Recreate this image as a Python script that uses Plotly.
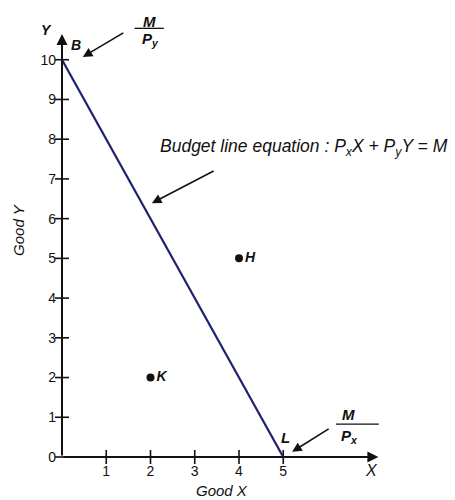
import plotly.graph_objects as go

# Budget line endpoints (intercepts M/Py on Y, M/Px on X)
budget_x = [0, 5]
budget_y = [10, 0]

# Consumption bundles
bundle_names = ["H", "K"]
bundle_x = [4, 2]
bundle_y = [5, 2]

# Axis ticks
x_ticks = [1, 2, 3, 4, 5]
y_ticks = [0, 1, 2, 3, 4, 5, 6, 7, 8, 9, 10]

X_MAX, Y_MAX = 8, 11

INK = "#111111"
LINE_BLUE = "#1d2170"
FONT = "Liberation Sans, Arial, sans-serif"

fig = go.Figure()

# crossing tick marks on both axes
fig.add_trace(go.Scatter(
    x=[0] * len(y_ticks), y=y_ticks, mode="markers",
    marker=dict(symbol="line-ew", size=10, line=dict(color=INK, width=1.6)),
    cliponaxis=False, hoverinfo="skip", showlegend=False))
fig.add_trace(go.Scatter(
    x=x_ticks, y=[0] * len(x_ticks), mode="markers",
    marker=dict(symbol="line-ns", size=10, line=dict(color=INK, width=1.6)),
    cliponaxis=False, hoverinfo="skip", showlegend=False))

# budget line
fig.add_trace(go.Scatter(
    x=budget_x, y=budget_y, mode="lines",
    line=dict(color=LINE_BLUE, width=2.2),
    cliponaxis=False, hoverinfo="skip", showlegend=False))

# bundles H and K
fig.add_trace(go.Scatter(
    x=bundle_x, y=bundle_y, mode="markers+text",
    marker=dict(color=INK, size=8),
    text=["<i><b>%s</b></i>" % n for n in bundle_names],
    textposition="middle right",
    textfont=dict(family=FONT, size=14, color=INK),
    cliponaxis=False, hoverinfo="skip", showlegend=False))

ann = []

# axis arrows
ann.append(dict(x=7.15, y=0, ax=0, ay=0, xref="x", yref="y", axref="x", ayref="y",
                text="", showarrow=True, arrowhead=2, arrowsize=1.1,
                arrowwidth=2, arrowcolor=INK))
ann.append(dict(x=0, y=10.65, ax=0, ay=0, xref="x", yref="y", axref="x", ayref="y",
                text="", showarrow=True, arrowhead=2, arrowsize=1.1,
                arrowwidth=2, arrowcolor=INK))

def label(x, y, s, size=14, **kw):
    # positions given in data units, placed in paper space so that
    # labels outside the axis ranges still render
    d = dict(x=x / X_MAX, y=y / Y_MAX, xref="paper", yref="paper", text=s,
             xanchor="center", yanchor="middle",
             showarrow=False, font=dict(family=FONT, size=size, color=INK))
    d.update(kw)
    ann.append(d)

def pointer(x, y, ax, ay):
    ann.append(dict(x=x, y=y, ax=ax, ay=ay, xref="x", yref="y", axref="x", ayref="y",
                    text="", showarrow=True, arrowhead=2, arrowsize=1.2,
                    arrowwidth=1.6, arrowcolor=INK))

label(-0.34, 10.75, "<i><b>Y</b></i>", 14)
label(0.32, 10.37, "<i><b>B</b></i>", 14)
label(7.0, -0.33, "<i>X</i>", 16)
label(5.04, 0.50, "<i><b>L</b></i>", 15)

# M / Py
label(1.97, 10.95, "<i><b>M</b></i>", 15)
label(1.99, 10.5, "<i><b>P<sub>y</sub></b></i>", 15)
pointer(0.47, 10.07, 1.42, 10.70)

# M / Px
label(6.47, 1.07, "<i><b>M</b></i>", 15)
label(6.5, 0.51, "<i><b>P<sub>x</sub></b></i>", 15)
pointer(5.2, 0.13, 6.06, 0.73)

# equation
label(2.17, 7.78, "<i>Budget line equation : P<sub>x</sub>X + P<sub>y</sub>Y = M</i>",
      17.5, xanchor="left")
pointer(2.03, 6.39, 3.46, 7.22)

# axis titles
label(3.62, -0.84, "<i>Good X</i>", 15)
label(-1.0, 5.71, "<i>Good Y</i>", 15, textangle=-90)

fig.update_layout(
    width=455, height=500,
    margin=dict(l=62, r=39, t=20, b=43),
    paper_bgcolor="white", plot_bgcolor="white",
    annotations=ann,
    shapes=[
        dict(type="line", xref="x", yref="y", x0=1.64, x1=2.3, y0=10.79, y1=10.79,
             line=dict(color=INK, width=1.3)),
        dict(type="line", xref="x", yref="y", x0=6.19, x1=7.16, y0=0.83, y1=0.83,
             line=dict(color=INK, width=1.3)),
    ],
    xaxis=dict(range=[0, X_MAX], showgrid=False, zeroline=False, showline=False,
               tickvals=x_ticks, ticks="", ticklabelstandoff=4,
               tickfont=dict(family=FONT, size=14, color=INK)),
    yaxis=dict(range=[0, Y_MAX], showgrid=False, zeroline=False, showline=False,
               tickvals=y_ticks, ticks="", ticklabelstandoff=5,
               tickfont=dict(family=FONT, size=14, color=INK)),
    showlegend=False,
)

fig.write_html("out.html")
